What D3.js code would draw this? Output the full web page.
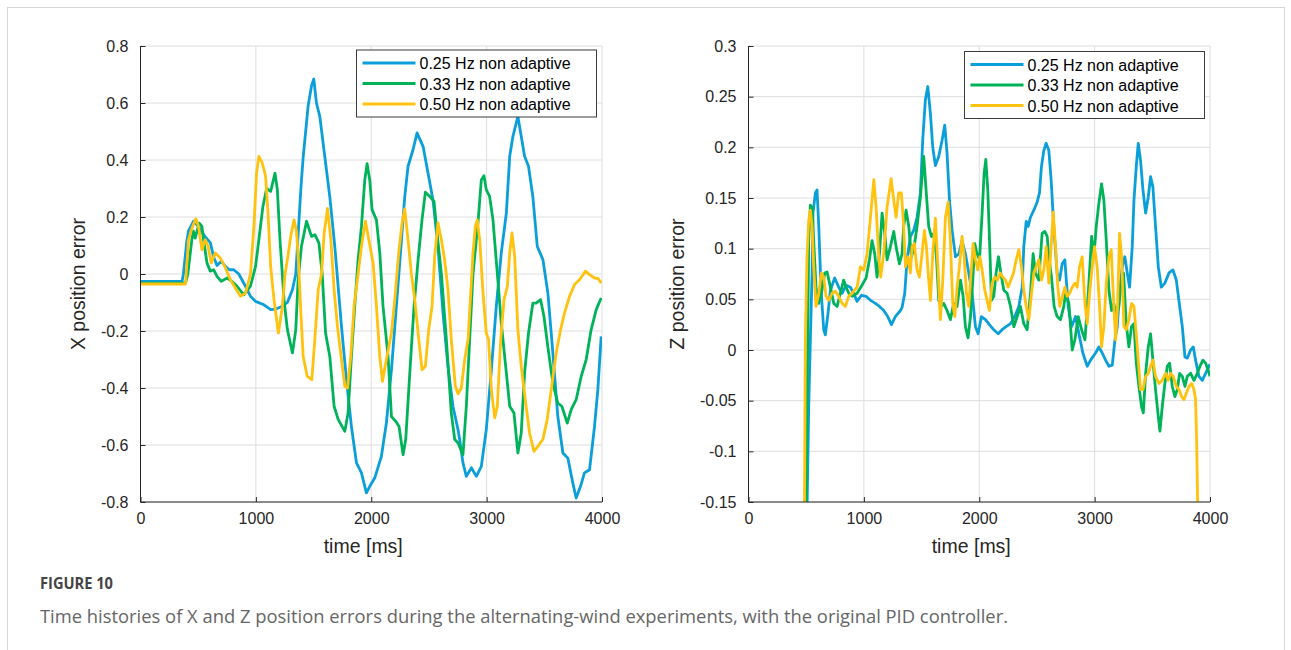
<!DOCTYPE html>
<html>
<head>
<meta charset="utf-8">
<script src="https://cdn.jsdelivr.net/npm/d3@7"></script>
<style>
  body { margin: 0; background: #fff; }
  svg { display: block; }
  .tick text { font-family: "Liberation Sans", Arial, sans-serif; font-size: 16px; fill: #262626; }
  .axis-label { font-family: "Liberation Sans", Arial, sans-serif; font-size: 19.5px; fill: #262626; }
  .legend text { font-family: "Liberation Sans", Arial, sans-serif; font-size: 16px; fill: #000; }
</style>
</head>
<body>
<div id="chart-area"></div>
<script>
// series names + colours
let seriesNames = ["0.25 Hz non adaptive", "0.33 Hz non adaptive", "0.50 Hz non adaptive"];
let seriesColors = ["#0a9fd9", "#00b359", "#ffc20e"];

// X position error, [time ms, value]
let x025 = [[0,-0.026],[360,-0.026],[372,0.0],[400,0.11],[415,0.15],[459,0.185],[503,0.167],[561,0.13],[605,0.11],[634,0.06],[663,0.03],[700,0.045],[735,0.027],[770,0.015],[808,0.015],[852,0.0],[910,-0.043],[953,-0.078],[997,-0.096],[1070,-0.108],[1128,-0.125],[1172,-0.123],[1230,-0.113],[1273,-0.10],[1317,-0.055],[1346,0.0],[1390,0.30],[1410,0.41],[1453,0.59],[1482,0.66],[1502,0.684],[1525,0.60],[1554,0.553],[1597,0.413],[1641,0.27],[1684,0.097],[1742,-0.184],[1785,-0.371],[1828,-0.535],[1872,-0.663],[1915,-0.698],[1958,-0.768],[1987,-0.745],[2030,-0.716],[2088,-0.64],[2131,-0.523],[2175,-0.336],[2218,-0.113],[2262,0.12],[2290,0.27],[2319,0.378],[2362,0.436],[2397,0.495],[2449,0.448],[2492,0.354],[2535,0.26],[2578,0.097],[2622,-0.137],[2665,-0.324],[2708,-0.464],[2752,-0.546],[2766,-0.58],[2795,-0.663],[2824,-0.71],[2868,-0.68],[2911,-0.71],[2954,-0.675],[2997,-0.546],[3041,-0.336],[3084,-0.113],[3127,0.074],[3171,0.214],[3200,0.413],[3228,0.483],[3271,0.553],[3300,0.483],[3329,0.413],[3363,0.378],[3401,0.27],[3439,0.097],[3488,0.05],[3531,-0.067],[3574,-0.277],[3617,-0.50],[3661,-0.628],[3704,-0.646],[3747,-0.733],[3776,-0.786],[3814,-0.745],[3848,-0.698],[3892,-0.687],[3935,-0.535],[3964,-0.406],[3993,-0.219]];
let x033 = [[0,-0.032],[390,-0.032],[410,0.0],[445,0.12],[459,0.15],[474,0.126],[509,0.179],[532,0.167],[547,0.12],[576,0.039],[605,0.01],[634,0.015],[663,-0.008],[700,-0.026],[750,-0.014],[794,-0.026],[837,-0.043],[895,-0.073],[953,-0.043],[997,0.027],[1026,0.12],[1061,0.237],[1093,0.30],[1128,0.29],[1166,0.354],[1186,0.296],[1209,0.12],[1244,-0.09],[1273,-0.195],[1317,-0.277],[1346,-0.195],[1366,-0.02],[1395,0.097],[1439,0.185],[1482,0.132],[1511,0.138],[1546,0.109],[1575,0.0],[1604,-0.207],[1641,-0.29],[1678,-0.464],[1713,-0.51],[1771,-0.552],[1799,-0.488],[1828,-0.29],[1857,-0.113],[1886,0.05],[1915,0.167],[1944,0.33],[1964,0.387],[1987,0.33],[2007,0.226],[2045,0.19],[2074,0.074],[2102,-0.113],[2146,-0.29],[2175,-0.50],[2212,-0.517],[2241,-0.535],[2276,-0.634],[2299,-0.58],[2334,-0.347],[2371,-0.113],[2406,0.05],[2440,0.19],[2469,0.287],[2507,0.272],[2544,0.255],[2573,0.132],[2608,0.0],[2651,-0.23],[2694,-0.488],[2723,-0.58],[2752,-0.593],[2795,-0.634],[2824,-0.464],[2853,-0.23],[2882,0.0],[2925,0.179],[2954,0.33],[2977,0.345],[2997,0.296],[3026,0.272],[3055,0.19],[3093,0.0],[3127,-0.172],[3171,-0.347],[3200,-0.464],[3237,-0.488],[3271,-0.628],[3300,-0.558],[3329,-0.347],[3363,-0.207],[3401,-0.102],[3430,-0.102],[3468,-0.09],[3497,-0.149],[3531,-0.257],[3574,-0.382],[3617,-0.453],[3652,-0.464],[3699,-0.523],[3733,-0.476],[3776,-0.441],[3820,-0.359],[3863,-0.30],[3906,-0.195],[3950,-0.125],[3993,-0.084]];
let x050 = [[0,-0.035],[390,-0.035],[416,0.12],[445,0.16],[480,0.194],[503,0.167],[532,0.085],[561,0.12],[584,0.1],[613,0.039],[648,0.074],[692,0.056],[730,0.027],[779,-0.02],[823,-0.05],[866,-0.078],[910,-0.067],[953,0.0],[983,0.167],[1006,0.354],[1026,0.413],[1055,0.39],[1084,0.343],[1105,0.214],[1128,0.027],[1157,-0.09],[1195,-0.207],[1230,-0.113],[1253,0.0],[1273,0.05],[1302,0.132],[1331,0.19],[1352,0.15],[1370,0.04],[1388,-0.12],[1410,-0.29],[1445,-0.359],[1485,-0.371],[1511,-0.23],[1540,-0.055],[1569,0.0],[1592,0.144],[1621,0.23],[1650,0.12],[1678,-0.055],[1707,-0.184],[1742,-0.30],[1771,-0.394],[1794,-0.40],[1822,-0.29],[1851,-0.113],[1886,0.0],[1915,0.097],[1950,0.185],[1979,0.12],[2016,0.039],[2045,-0.113],[2074,-0.29],[2097,-0.377],[2131,-0.30],[2175,-0.207],[2204,-0.09],[2238,0.074],[2267,0.179],[2290,0.228],[2319,0.12],[2348,0.0],[2377,-0.09],[2412,-0.23],[2440,-0.336],[2469,-0.324],[2498,-0.195],[2527,-0.113],[2550,0.062],[2578,0.179],[2608,0.12],[2636,0.05],[2665,-0.055],[2694,-0.23],[2729,-0.394],[2752,-0.42],[2781,-0.40],[2810,-0.30],[2839,-0.23],[2862,-0.067],[2882,0.074],[2902,0.167],[2919,0.19],[2940,0.12],[2969,-0.067],[2997,-0.207],[3017,-0.23],[3041,-0.406],[3070,-0.505],[3093,-0.464],[3122,-0.23],[3151,-0.09],[3180,-0.043],[3200,0.074],[3220,0.144],[3243,0.062],[3271,-0.195],[3300,-0.324],[3335,-0.441],[3372,-0.558],[3410,-0.622],[3444,-0.605],[3488,-0.58],[3525,-0.511],[3560,-0.406],[3603,-0.277],[3641,-0.195],[3675,-0.137],[3719,-0.078],[3762,-0.037],[3805,-0.02],[3857,0.01],[3892,-0.002],[3935,-0.014],[3965,-0.015],[3993,-0.032]];

// Z position error, [time ms, value]
let z025 = [[480,-0.3],[507,-0.16],[522,-0.056],[536,0.01],[551,0.076],[559,0.135],[580,0.155],[594,0.158],[609,0.122],[629,0.059],[652,0.02],[666,0.015],[689,0.036],[710,0.059],[747,0.071],[782,0.062],[811,0.056],[846,0.064],[883,0.062],[912,0.056],[941,0.048],[979,0.054],[1019,0.053],[1057,0.049],[1100,0.046],[1135,0.043],[1172,0.039],[1207,0.033],[1239,0.025],[1273,0.033],[1317,0.039],[1331,0.042],[1354,0.056],[1374,0.089],[1403,0.112],[1432,0.118],[1461,0.131],[1490,0.155],[1510,0.207],[1533,0.247],[1554,0.26],[1577,0.233],[1597,0.2],[1620,0.182],[1649,0.191],[1678,0.207],[1701,0.222],[1721,0.194],[1742,0.148],[1765,0.118],[1794,0.092],[1823,0.095],[1851,0.108],[1880,0.095],[1909,0.076],[1938,0.056],[1967,0.023],[1990,0.016],[2019,0.033],[2054,0.03],[2088,0.025],[2126,0.02],[2164,0.016],[2198,0.02],[2233,0.023],[2271,0.026],[2308,0.033],[2343,0.043],[2372,0.062],[2386,0.102],[2407,0.127],[2424,0.122],[2444,0.131],[2473,0.138],[2502,0.146],[2522,0.155],[2539,0.181],[2560,0.197],[2580,0.204],[2603,0.197],[2623,0.168],[2646,0.122],[2675,0.076],[2696,0.069],[2719,0.085],[2742,0.089],[2771,0.043],[2800,0.023],[2835,0.033],[2864,0.016],[2898,-0.003],[2936,-0.016],[2965,-0.01],[3008,-0.003],[3037,0.003],[3066,-0.003],[3095,-0.01],[3124,-0.016],[3153,-0.015],[3176,0.01],[3196,0.023],[3216,0.056],[3239,0.082],[3262,0.092],[3283,0.076],[3303,0.062],[3326,0.102],[3341,0.148],[3361,0.181],[3378,0.204],[3398,0.187],[3419,0.158],[3442,0.135],[3465,0.151],[3485,0.171],[3505,0.161],[3528,0.122],[3552,0.082],[3578,0.062],[3609,0.066],[3644,0.076],[3679,0.079],[3708,0.069],[3737,0.043],[3760,0.023],[3783,-0.007],[3803,-0.008],[3832,0.0],[3855,0.003],[3875,-0.01],[3904,-0.026],[3933,-0.03],[3962,-0.023],[3991,-0.016],[4000,-0.014]];
let z033 = [[470,-0.3],[500,-0.16],[513,0.01],[522,0.108],[536,0.143],[551,0.141],[565,0.108],[585,0.062],[609,0.046],[632,0.056],[661,0.076],[681,0.077],[710,0.062],[739,0.046],[768,0.043],[796,0.056],[825,0.069],[846,0.062],[869,0.056],[898,0.053],[941,0.056],[984,0.064],[1019,0.071],[1048,0.089],[1071,0.108],[1094,0.095],[1114,0.072],[1135,0.095],[1158,0.135],[1181,0.115],[1201,0.089],[1230,0.102],[1259,0.117],[1279,0.102],[1308,0.085],[1331,0.095],[1345,0.122],[1366,0.138],[1389,0.122],[1412,0.092],[1432,0.099],[1461,0.122],[1490,0.151],[1519,0.191],[1539,0.158],[1562,0.122],[1585,0.112],[1606,0.115],[1629,0.092],[1649,0.049],[1672,0.043],[1692,0.046],[1721,0.039],[1750,0.03],[1779,0.046],[1808,0.043],[1837,0.069],[1860,0.053],[1880,0.023],[1903,0.012],[1924,0.033],[1944,0.069],[1961,0.105],[1981,0.095],[2002,0.089],[2025,0.135],[2042,0.174],[2057,0.188],[2074,0.158],[2091,0.102],[2106,0.049],[2126,0.053],[2146,0.076],[2167,0.092],[2187,0.076],[2213,0.059],[2242,0.056],[2271,0.043],[2300,0.023],[2329,0.033],[2357,0.043],[2386,0.026],[2415,0.02],[2444,0.056],[2467,0.095],[2487,0.076],[2516,0.069],[2545,0.115],[2568,0.117],[2589,0.112],[2603,0.092],[2626,0.072],[2649,0.043],[2675,0.033],[2704,0.03],[2733,0.043],[2748,0.056],[2777,0.046],[2806,0.0],[2829,0.01],[2858,0.033],[2887,0.02],[2916,0.01],[2945,0.056],[2974,0.112],[2994,0.092],[3014,0.122],[3037,0.145],[3060,0.164],[3080,0.148],[3101,0.108],[3124,0.059],[3147,0.039],[3167,0.046],[3187,0.033],[3210,0.043],[3231,0.069],[3251,0.076],[3274,0.026],[3297,0.003],[3320,0.023],[3341,0.026],[3361,-0.013],[3384,-0.036],[3407,-0.056],[3422,-0.062],[3442,-0.023],[3465,0.003],[3485,0.016],[3505,-0.01],[3528,-0.039],[3552,-0.066],[3566,-0.08],[3586,-0.056],[3609,-0.033],[3630,-0.016],[3650,-0.013],[3673,-0.036],[3696,-0.046],[3716,-0.039],[3737,-0.023],[3760,-0.026],[3783,-0.036],[3803,-0.026],[3832,-0.023],[3861,-0.03],[3890,-0.023],[3913,-0.016],[3939,-0.01],[3962,-0.013],[3985,-0.02],[4000,-0.026]];
let z050 = [[465,-0.3],[485,-0.16],[493,0.01],[507,0.092],[522,0.128],[536,0.138],[551,0.122],[565,0.082],[585,0.043],[609,0.056],[632,0.076],[652,0.072],[672,0.053],[695,0.049],[724,0.056],[753,0.058],[782,0.053],[811,0.046],[840,0.043],[869,0.053],[898,0.056],[941,0.062],[970,0.082],[999,0.079],[1028,0.095],[1057,0.131],[1086,0.168],[1106,0.141],[1129,0.092],[1146,0.072],[1172,0.095],[1201,0.141],[1236,0.169],[1259,0.148],[1279,0.131],[1302,0.155],[1325,0.155],[1345,0.122],[1360,0.082],[1383,0.092],[1403,0.076],[1418,0.102],[1438,0.105],[1461,0.079],[1481,0.072],[1504,0.095],[1525,0.118],[1542,0.102],[1562,0.069],[1577,0.049],[1597,0.095],[1620,0.13],[1643,0.079],[1663,0.03],[1684,0.069],[1707,0.131],[1730,0.146],[1750,0.108],[1770,0.046],[1788,0.033],[1808,0.062],[1828,0.082],[1851,0.112],[1869,0.092],[1889,0.056],[1909,0.043],[1929,0.076],[1947,0.105],[1967,0.089],[1987,0.079],[2005,0.092],[2025,0.079],[2048,0.059],[2068,0.049],[2088,0.039],[2112,0.066],[2135,0.072],[2158,0.069],[2181,0.076],[2204,0.072],[2227,0.069],[2250,0.062],[2274,0.069],[2297,0.076],[2320,0.089],[2343,0.099],[2366,0.082],[2386,0.059],[2407,0.043],[2430,0.03],[2453,0.056],[2473,0.076],[2493,0.082],[2516,0.089],[2539,0.069],[2560,0.079],[2580,0.102],[2603,0.066],[2623,0.102],[2641,0.136],[2661,0.102],[2681,0.062],[2698,0.043],[2719,0.052],[2742,0.062],[2762,0.053],[2783,0.056],[2806,0.062],[2829,0.066],[2849,0.062],[2869,0.082],[2892,0.092],[2916,0.046],[2936,0.026],[2956,0.056],[2979,0.082],[2999,0.102],[3022,0.082],[3043,0.043],[3060,0.003],[3080,0.023],[3101,0.066],[3124,0.092],[3144,0.099],[3161,0.056],[3182,0.01],[3199,0.043],[3216,0.115],[3234,0.092],[3254,0.023],[3274,0.02],[3297,0.03],[3320,0.046],[3341,0.043],[3361,0.016],[3378,-0.01],[3398,-0.039],[3419,-0.039],[3442,-0.026],[3465,-0.023],[3485,-0.016],[3505,-0.01],[3528,-0.026],[3557,-0.033],[3586,-0.03],[3615,-0.023],[3638,-0.03],[3659,-0.023],[3682,-0.026],[3708,-0.036],[3731,-0.039],[3754,-0.046],[3774,-0.049],[3794,-0.043],[3818,-0.036],[3841,-0.033],[3861,-0.039],[3875,-0.049],[3884,-0.089],[3893,-0.151],[3900,-0.2]];

// tick values
let timeTicks = [0, 1000, 2000, 3000, 4000];
let xErrTicks = [-0.8, -0.6, -0.4, -0.2, 0, 0.2, 0.4, 0.6, 0.8];
let zErrTicks = [-0.15, -0.1, -0.05, 0, 0.05, 0.1, 0.15, 0.2, 0.25, 0.3];

let svg = d3.select("#chart-area").append("svg")
    .attr("width", 1291)
    .attr("height", 650);

// card frame
svg.append("rect")
    .attr("x", 7.5).attr("y", 7.5)
    .attr("width", 1277).attr("height", 700)
    .attr("fill", "none")
    .attr("stroke", "#d6d6d6");

function drawPanel(opt) {
    let g = svg.append("g")
        .attr("transform", "translate(" + opt.left + "," + opt.top + ")");
    let w = opt.width, h = opt.height;

    let x = d3.scaleLinear().domain([0, 4000]).range([0, w]);
    let y = d3.scaleLinear().domain(opt.domain).range([h, 0]);

    // grid
    g.append("g").selectAll("line").data(timeTicks).enter().append("line")
        .attr("x1", d => x(d)).attr("x2", d => x(d))
        .attr("y1", 0).attr("y2", h)
        .attr("stroke", "#dedede");
    g.append("g").selectAll("line").data(opt.ticks).enter().append("line")
        .attr("x1", 0).attr("x2", w)
        .attr("y1", d => y(d)).attr("y2", d => y(d))
        .attr("stroke", "#dedede");

    // lines
    let clipId = "clip-" + opt.id;
    g.append("clipPath").attr("id", clipId)
        .append("rect").attr("x", 0).attr("y", 0).attr("width", w).attr("height", h);

    let line = d3.line().x(d => x(d[0])).y(d => y(d[1]));
    g.append("g").attr("clip-path", "url(#" + clipId + ")")
        .selectAll("path").data(opt.series).enter().append("path")
        .attr("d", d => line(d))
        .attr("fill", "none")
        .attr("stroke", (d, i) => seriesColors[i])
        .attr("stroke-width", 2.8)
        .attr("stroke-linejoin", "round");

    // axes, ticks inside
    let xAxis = d3.axisBottom(x).tickValues(timeTicks).tickSize(-5).tickPadding(11).tickFormat(d3.format("d"));
    let yAxis = d3.axisLeft(y).tickValues(opt.ticks).tickSize(-5).tickPadding(12).tickFormat(d => d3.format("")(+d.toFixed(2)).replace("−", "-"));

    g.append("g").attr("class", "x-axis axis")
        .attr("transform", "translate(0," + h + ")")
        .call(xAxis)
        .call(a => a.select(".domain").attr("d", "M0,0H" + w).attr("stroke", "#262626"));
    g.append("g").attr("class", "y-axis axis")
        .call(yAxis)
        .call(a => a.select(".domain").attr("d", "M0,0V" + h).attr("stroke", "#262626"));
    g.selectAll(".tick line").attr("stroke", "#262626");

    // axis labels
    g.append("text").attr("class", "axis-label")
        .attr("x", w / 2 - 8).attr("y", h + 51)
        .attr("text-anchor", "middle")
        .text("time [ms]");
    g.append("text").attr("class", "axis-label")
        .attr("transform", "translate(" + opt.ylabelX + "," + (h / 2 + 10) + ") rotate(-90)")
        .attr("text-anchor", "middle")
        .text(opt.ylabel);

    // legend
    let lg = g.append("g").attr("class", "legend")
        .attr("transform", "translate(" + opt.legendX + "," + opt.legendY + ")");
    lg.append("rect")
        .attr("width", 240).attr("height", 67)
        .attr("fill", "#fff").attr("stroke", "#3a3a3a");
    let row = lg.selectAll(".row").data(seriesNames).enter().append("g")
        .attr("transform", (d, i) => "translate(0," + (13 + i * 20.5) + ")");
    row.append("line")
        .attr("x1", 6).attr("x2", 59)
        .attr("stroke", (d, i) => seriesColors[i])
        .attr("stroke-width", 2.8);
    row.append("text")
        .attr("x", 63).attr("y", 6)
        .text(d => d);
}

drawPanel({
    id: "x", left: 140.5, top: 46, width: 461.5, height: 456,
    domain: [-0.8, 0.8], ticks: xErrTicks,
    series: [x025, x033, x050],
    ylabel: "X position error", ylabelX: -56,
    legendX: 216, legendY: 4
});

drawPanel({
    id: "z", left: 748.5, top: 46, width: 461.5, height: 456,
    domain: [-0.15, 0.3], ticks: zErrTicks,
    series: [z025, z033, z050],
    ylabel: "Z position error", ylabelX: -65,
    legendX: 216, legendY: 5.5
});

// caption
svg.append("text")
    .attr("x", 40).attr("y", 589)
    .attr("font-family", "'Open Sans', sans-serif")
    .attr("font-size", 16).attr("font-weight", 700)
    .attr("fill", "#444")
    .attr("textLength", 73)
    .attr("lengthAdjust", "spacingAndGlyphs")
    .text("FIGURE 10");
svg.append("text")
    .attr("x", 40).attr("y", 623)
    .attr("font-family", "'Open Sans', sans-serif")
    .attr("font-size", 18)
    .attr("fill", "#666")
    .attr("textLength", 968)
    .attr("lengthAdjust", "spacingAndGlyphs")
    .text("Time histories of X and Z position errors during the alternating-wind experiments, with the original PID controller.");
</script>
</body>
</html>
